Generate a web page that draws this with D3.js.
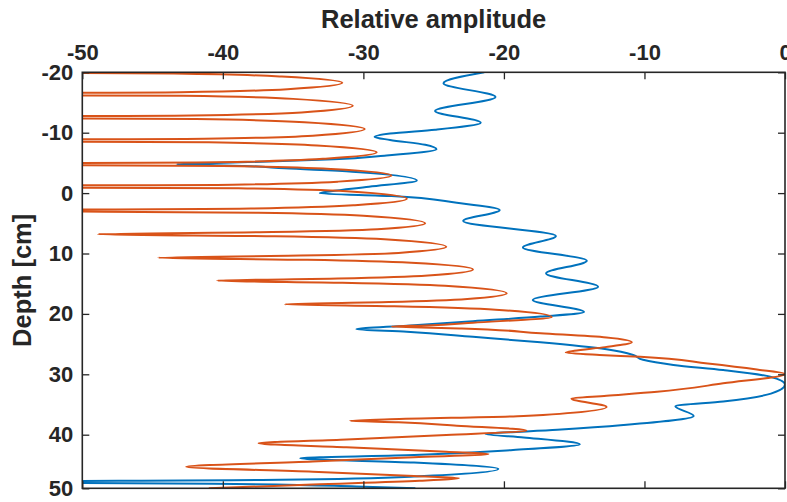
<!DOCTYPE html>
<html lang="en">
  <head>
    <meta charset="UTF-8">
    <script src="https://cdn.jsdelivr.net/npm/d3@7"></script>
    <title>Relative amplitude vs depth</title>
    <style>
      body { margin: 0; background: #fff; }
    </style>
  </head>
  <body>
    <script>
      // tick values
      const xTicks = [-50, -40, -30, -20, -10, 0];
      const yTicks = [-20, -10, 0, 10, 20, 30, 40, 50];

      // blue series (depth in cm, relative amplitude)
      const blueDepth = [-20.0, -18.2, -15.9, -13.6, -11.65, -10.5, -9.85, -9.3, -8.8, -8.0,
        -7.25, -6.2, -5.6, -5.05, -4.8, -4.5, -4.1, -3.55, -2.1, -1.05,
        -0.3, 0.03, 0.5, 1.6, 2.8, 4.6, 7.1, 9.0, 11.2, 13.3,
        15.5, 17.7, 19.7, 20.45, 21.2, 21.95, 22.55, 22.95, 23.8, 24.7,
        25.85, 26.8, 27.6, 28.45, 29.3, 30.4, 31.7, 33.2, 34.5, 35.3,
        36.9, 38.4, 39.2, 39.9, 40.5, 41.8, 42.85, 43.8, 44.4, 45.2,
        46.4, 47.8, 48.4, 48.85, 49.15, 49.65, 50.0];
      const blueAmp = [-21.4, -24.3, -20.6, -24.9, -21.65, -24.9, -28.1, -29.2, -28.1, -25.6,
        -24.8, -28.5, -32.1, -39.3, -43.3, -38.5, -35.6, -30.8, -26.2, -29.6,
        -32.3, -33.1, -28.0, -23.35, -20.3, -22.9, -16.3, -18.65, -14.1, -17.0,
        -13.3, -17.95, -14.3, -17.4, -22.2, -26.9, -30.5, -26.9, -22.2, -17.4,
        -12.7, -10.8, -10.1, -7.94, -4.4, -1.05, 0.0, -1.0, -4.4, -7.8,
        -6.5, -11.5, -16.2, -21.3, -18.6, -14.6, -19.35, -26.4, -34.5, -26.4,
        -20.4, -26.4, -35.9, -60, -40.7, -30.5, -26.3];

      // orange series
      const orangeDepth = [-20.1, -19.8, -19.3, -18.25, -17.2, -16.7, -16.4, -16.1, -15.6, -14.45,
        -13.35, -12.85, -12.55, -12.25, -11.75, -10.6, -9.5, -9.0, -8.7, -8.4,
        -7.9, -6.75, -5.7, -5.1, -4.8, -4.5, -4.0, -2.9, -1.9, -1.4,
        -1.1, -0.8, -0.3, 0.95, 2.0, 2.55, 2.9, 3.25, 3.75, 5.0,
        6.0, 6.45, 6.8, 7.15, 7.65, 8.9, 9.9, 10.35, 10.7, 11.05,
        11.55, 12.65, 13.65, 14.15, 14.5, 14.85, 15.35, 16.6, 17.55, 18.05,
        18.4, 18.75, 19.3, 20.5, 21.45, 21.9, 22.1, 22.4, 23.2, 23.9,
        24.7, 25.5, 26.1, 26.4, 26.8, 27.1, 28.2, 29.2, 29.95, 31.5,
        32.9, 33.55, 34.0, 35.4, 36.9, 37.45, 37.7, 37.95, 38.5, 39.3,
        40.05, 40.9, 41.6, 42.35, 43.2, 43.6, 44.2, 45.0, 46.0, 46.9,
        47.7, 48.1, 48.6, 49.3, 50.0];
      const orangeAmp = [-70, -43.5, -35.8, -31.5, -35.4, -43.0, -70, -42.8, -35.0, -30.75,
        -34.4, -42.2, -70, -41.9, -34.2, -29.9, -33.6, -41.3, -70, -41.0,
        -33.3, -29.05, -32.7, -40.5, -70, -40.0, -32.3, -28.0, -31.8, -39.3,
        -70, -38.9, -31.2, -26.9, -30.6, -38.0, -60, -37.5, -30.0, -25.6,
        -29.0, -36.5, -48.9, -36.3, -28.5, -24.1, -27.5, -34.5, -44.6, -34.0,
        -26.6, -22.2, -25.4, -31.8, -40.4, -31.5, -24.2, -19.8, -22.6, -28.2,
        -35.6, -27.8, -20.6, -16.6, -22.2, -25.5, -28.0, -23.0, -17.4, -12.7,
        -10.9, -12.8, -15.0, -15.6, -13.2, -10.3, -5.5, -2.0, 0.0, -4.4,
        -9.1, -12.7, -15.2, -12.7, -18.6, -28.1, -30.95, -27.5, -23.35, -18.4,
        -24.1, -31.2, -37.45, -31.2, -24.1, -21.1, -26.4, -33.6, -42.6, -33.6,
        -26.4, -23.2, -26.0, -33.6, -41.0];

      let w = 787;
      let h = 502;
      let plotLeft = 82.3, plotRight = 785, plotTop = 72.3, plotBottom = 488.3;
      let ink = '#262626';
      let font = '"Liberation Sans", Arial, Helvetica, sans-serif';

      let xScale = d3.scaleLinear()
                     .domain([-50, 0])
                     .range([plotLeft, plotRight]);
      // the lowest interval is drawn a little shorter in the picture
      let yScale = d3.scaleLinear()
                     .domain([-20, 40, 50])
                     .range([plotTop, 434.7, plotBottom]);

      let svg = d3.select('body')
                  .append('svg')
                  .attr('width', w)
                  .attr('height', h);

      svg.append('clipPath')
         .attr('id', 'plot')
         .append('rect')
         .attr('x', plotLeft)
         .attr('y', plotTop)
         .attr('width', plotRight - plotLeft)
         .attr('height', plotBottom - plotTop);

      // curves
      let line = d3.line()
                   .x(d => xScale(d[1]))
                   .y(d => yScale(d[0]))
                   .curve(d3.curveMonotoneY);

      let series = [
        { depth: blueDepth, amp: blueAmp, color: '#0072BD' },
        { depth: orangeDepth, amp: orangeAmp, color: '#D95319' }
      ];

      svg.append('g')
         .attr('clip-path', 'url(#plot)')
         .selectAll('path')
         .data(series)
         .enter()
         .append('path')
         .attr('d', s => line(s.depth.map((d, i) => [d, s.amp[i]])))
         .attr('fill', 'none')
         .attr('stroke', s => s.color)
         .attr('stroke-width', 2)
         .attr('stroke-linejoin', 'round');

      // axes, ticks pointing inward on all four sides
      function styleAxis(g) {
        g.select('.domain').remove();
        g.selectAll('line').attr('stroke', ink).attr('stroke-width', 1.3);
        g.selectAll('text')
         .attr('fill', ink)
         .attr('font-family', font)
         .attr('font-weight', 'bold')
         .attr('font-size', '22px');
      }

      svg.append('g')
         .attr('transform', `translate(0,${plotTop})`)
         .call(d3.axisTop(xScale).tickValues(xTicks).tickSize(-7).tickPadding(12).tickFormat(d => String(d)))
         .call(styleAxis);
      svg.append('g')
         .attr('transform', `translate(0,${plotBottom})`)
         .call(d3.axisBottom(xScale).tickValues(xTicks).tickSize(-7).tickFormat(''))
         .call(styleAxis);
      svg.append('g')
         .attr('transform', `translate(${plotLeft},0)`)
         .call(d3.axisLeft(yScale).tickValues(yTicks).tickSize(-7).tickPadding(9).tickFormat(d => String(d)))
         .call(styleAxis);
      svg.append('g')
         .attr('transform', `translate(${plotRight},0)`)
         .call(d3.axisRight(yScale).tickValues(yTicks).tickSize(-7).tickFormat(''))
         .call(styleAxis);

      svg.append('rect')
         .attr('x', plotLeft)
         .attr('y', plotTop)
         .attr('width', plotRight - plotLeft)
         .attr('height', plotBottom - plotTop)
         .attr('fill', 'none')
         .attr('stroke', ink)
         .attr('stroke-width', 1.6);

      // axis titles
      svg.append('text')
         .text('Relative amplitude')
         .attr('x', (plotLeft + plotRight) / 2)
         .attr('y', 28)
         .attr('text-anchor', 'middle')
         .attr('font-family', font)
         .attr('font-weight', 'bold')
         .attr('font-size', '25.5px')
         .attr('fill', ink);

      svg.append('text')
         .text('Depth [cm]')
         .attr('transform', `translate(31,${(plotTop + plotBottom) / 2}) rotate(-90)`)
         .attr('text-anchor', 'middle')
         .attr('font-family', font)
         .attr('font-weight', 'bold')
         .attr('font-size', '25.5px')
         .attr('fill', ink);
    </script>
  </body>
</html>
